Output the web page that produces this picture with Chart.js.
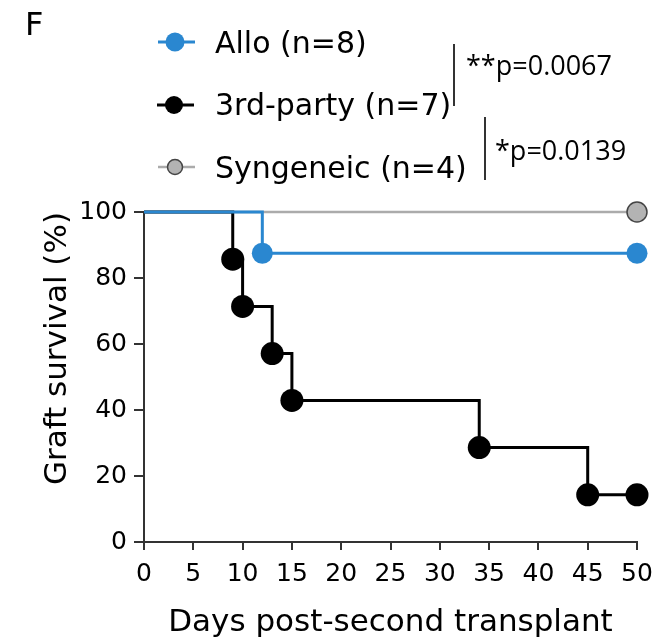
<!DOCTYPE html>
<html>
<head>
<meta charset="utf-8">
<script src="https://cdn.jsdelivr.net/npm/chart.js@4.4.1/dist/chart.umd.min.js"></script>
<style>
    html, body { margin: 0; padding: 0; background: #ffffff; }
    #survivalChart { display: block; }
</style>
</head>
<body>
<canvas id="survivalChart" width="667" height="643"></canvas>
<script>
// Kaplan-Meier steps
const alloDays = [0, 12, 50];
const alloSurvival = [100, 87.5, 87.5];
const thirdPartyDays = [0, 9, 10, 13, 15, 34, 45, 50];
const thirdPartySurvival = [100, 85.7, 71.4, 57.1, 42.9, 28.6, 14.3, 14.3];
const syngeneicDays = [0, 50];
const syngeneicSurvival = [100, 100];

const groupLabels = ["Allo (n=8)", "3rd-party (n=7)", "Syngeneic (n=4)"];
const pValueLabels = ["**p=0.0067", "*p=0.0139"];

const xTickStep = 5;
const yTickStep = 20;

const mainFont = "'DejaVu Sans', sans-serif";
const pFont = "'Open Sans', sans-serif";
const inkColor = "#000000";
const axisColor = "#333333";

const seriesStyle = {
    allo: { line: "#2a87d0", fill: "#2a87d0", border: "#2a87d0", radius: 10.5, width: 3 },
    third: { line: "#000000", fill: "#000000", border: "#000000", radius: 11.5, width: 3 },
    syn: { line: "#ababab", fill: "#b3b3b3", border: "#444444", radius: 10, width: 2.5 }
};

function toPoints(days, values) {
    return days.map(function (d, i) {
        return { x: d, y: values[i] };
    });
}

function markerRadii(days, r) {
    return days.map(function (d, i) {
        return i === 0 ? 0 : r;
    });
}

function makeDataset(label, days, values, style) {
    return {
        label: label,
        data: toPoints(days, values),
        stepped: true,
        borderColor: style.line,
        borderWidth: style.width,
        pointBackgroundColor: style.fill,
        pointBorderColor: style.border,
        pointBorderWidth: style === seriesStyle.syn ? 1.5 : 0,
        pointRadius: markerRadii(days, style.radius),
        pointHoverRadius: markerRadii(days, style.radius),
        fill: false,
        clip: false
    };
}

function drawLegendMarker(ctx, x, y, style, r) {
    ctx.save();
    ctx.strokeStyle = style.line;
    ctx.lineWidth = style.width;
    ctx.beginPath();
    ctx.moveTo(x - 17, y);
    ctx.lineTo(x + 20, y);
    ctx.stroke();
    ctx.beginPath();
    ctx.arc(x, y, r, 0, Math.PI * 2);
    ctx.fillStyle = style.fill;
    ctx.fill();
    if (style === seriesStyle.syn) {
        ctx.lineWidth = 1.5;
        ctx.strokeStyle = style.border;
        ctx.stroke();
    }
    ctx.restore();
}

const annotationPlugin = {
    id: "panelAnnotations",
    afterDraw: function (chart) {
        const ctx = chart.ctx;
        ctx.save();

        // panel letter
        ctx.fillStyle = inkColor;
        ctx.font = "32px " + mainFont;
        ctx.textAlign = "left";
        ctx.textBaseline = "alphabetic";
        ctx.fillText("F", 25, 35);

        // legend rows
        const rows = [
            { style: seriesStyle.allo, cx: 175, cy: 42, base: 53, r: 9.5 },
            { style: seriesStyle.third, cx: 174, cy: 105, base: 115, r: 9 },
            { style: seriesStyle.syn, cx: 175, cy: 167, base: 178, r: 7.5 }
        ];
        rows.forEach(function (row, i) {
            drawLegendMarker(ctx, row.cx, row.cy, row.style, row.r);
            ctx.fillStyle = inkColor;
            ctx.font = "30px " + mainFont;
            ctx.fillText(groupLabels[i], 215, row.base);
        });

        // comparison brackets
        ctx.strokeStyle = axisColor;
        ctx.lineWidth = 2;
        ctx.beginPath();
        ctx.moveTo(454, 44);
        ctx.lineTo(454, 106);
        ctx.moveTo(485, 117);
        ctx.lineTo(485, 180);
        ctx.stroke();

        ctx.fillStyle = inkColor;
        ctx.font = "27px " + pFont;
        ctx.fillText(pValueLabels[0], 466, 75);
        ctx.fillText(pValueLabels[1], 495, 160);

        ctx.restore();
    }
};

new Chart(document.getElementById("survivalChart"), {
    type: "line",
    plugins: [annotationPlugin],
    data: {
        datasets: [
            makeDataset(groupLabels[0], alloDays, alloSurvival, seriesStyle.allo),
            makeDataset(groupLabels[1], thirdPartyDays, thirdPartySurvival, seriesStyle.third),
            makeDataset(groupLabels[2], syngeneicDays, syngeneicSurvival, seriesStyle.syn)
        ]
    },
    options: {
        responsive: false,
        animation: false,
        devicePixelRatio: 1,
        layout: {
            padding: { top: 212, right: 30, bottom: 0, left: 0 }
        },
        plugins: {
            legend: { display: false },
            tooltip: { enabled: false }
        },
        scales: {
            x: {
                type: "linear",
                min: 0,
                max: 50,
                afterFit: function (scale) {
                    scale.height = 101;
                },
                ticks: {
                    stepSize: xTickStep,
                    color: inkColor,
                    padding: 9,
                    maxRotation: 0,
                    font: { family: mainFont, size: 25 }
                },
                grid: {
                    drawOnChartArea: false,
                    drawTicks: true,
                    tickLength: 8,
                    color: axisColor,
                    lineWidth: 2
                },
                border: { color: axisColor, width: 2 },
                title: {
                    display: true,
                    text: "Days post-second transplant",
                    color: inkColor,
                    font: { family: mainFont, size: 31 },
                    padding: { top: 0, bottom: 1 }
                }
            },
            y: {
                min: 0,
                max: 100,
                afterFit: function (scale) {
                    scale.width = 144;
                },
                ticks: {
                    stepSize: yTickStep,
                    color: inkColor,
                    padding: 7,
                    font: { family: mainFont, size: 25 }
                },
                grid: {
                    drawOnChartArea: false,
                    drawTicks: true,
                    tickLength: 10,
                    color: axisColor,
                    lineWidth: 2
                },
                border: { color: axisColor, width: 2 },
                title: {
                    display: true,
                    text: "Graft survival (%)",
                    align: "end",
                    color: inkColor,
                    font: { family: mainFont, size: 31 },
                    padding: { top: 39, bottom: 0 }
                }
            }
        }
    }
});
</script>
</body>
</html>
